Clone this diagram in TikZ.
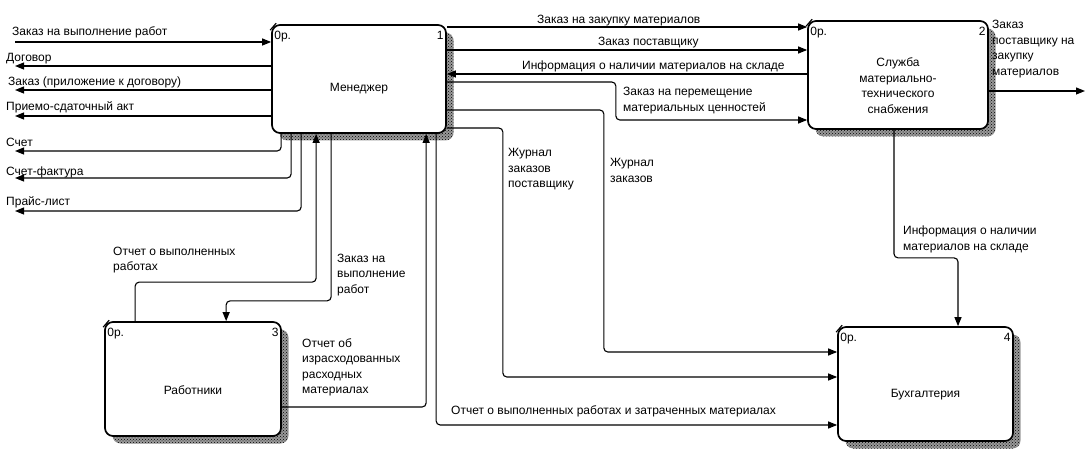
\documentclass[tikz,border=0pt]{standalone}
\usepackage{fontspec}
\setmainfont{Liberation Sans}
\usetikzlibrary{arrows.meta,patterns}
\begin{document}
\begin{tikzpicture}[x=1pt,y=-1pt,
  every node/.style={font=\fontsize{12}{15.5}\selectfont, inner sep=0pt},
  proc/.style={draw, line width=1.7pt, rounded corners=8pt, fill=white, inner sep=0pt,
     preaction={draw=none, fill=black!40, transform canvas={shift={(7.5pt,-7.5pt)}}},
     preaction={draw=none, pattern=crosshatch dots, pattern color=black,
                transform canvas={shift={(7.5pt,-7.5pt)}}}},
  flow/.style={draw, line width=1.1pt, rounded corners=4pt, -{Triangle[length=9pt,width=7pt]}},
  lbl/.style={anchor=base west, align=left},
  tick/.style={line width=1.1pt}]
\useasboundingbox (0,0) rectangle (1087,465);
% boxes
\node[proc, minimum width=174pt, minimum height=108pt] (m) at (359,79) {};
\node[proc, minimum width=180pt, minimum height=108pt] (s) at (898,75) {};
\node[proc, minimum width=176pt, minimum height=114pt] (w) at (193,379) {};
\node[proc, minimum width=175pt, minimum height=114pt] (b) at (925.5,384) {};
\node (mt) at ([yshift=-10pt]m.center) {Менеджер};
\node[align=center] (st) at ([yshift=-10.5pt]s.center) {Служба\\материально-\\технического\\снабжения};
\node (wt) at ([yshift=-11pt]w.center) {Работники};
\node (bt) at ([yshift=-11pt]b.center) {Бухгалтерия};
\foreach \bx/\nm in {m/1,s/2,w/3,b/4}{
  \node[anchor=base west] (\bx o) at ([shift={(3pt,-15pt)}]\bx.north west) {0р.};
  \node[anchor=base east] (\bx n) at ([shift={(-3pt,-15pt)}]\bx.north east) {\nm};
  \draw[tick] ([shift={(-1pt,-6pt)}]\bx.north west) -- ([shift={(5pt,1pt)}]\bx.north west);
}
% left side
\coordinate (e1) at (15,42);
\coordinate (e2) at (15,66);
\coordinate (e3) at (15,90);
\coordinate (e4) at (15,116);
\coordinate (e5) at (15,151);
\coordinate (e6) at (15,178);
\coordinate (e7) at (15,211);
\draw[flow] (e1) -- (e1 -| m.west);
\draw[flow] (e2 -| m.west) -- (e2);
\draw[flow] (e3 -| m.west) -- (e3);
\draw[flow] (e4 -| m.west) -- (e4);
\draw[flow] ([xshift=10pt]m.south west) |- (e5);
\draw[flow] ([xshift=20pt]m.south west) |- (e6);
\draw[flow] ([xshift=30pt]m.south west) |- (e7);
\node[lbl] at (12,36) {Заказ на выполнение работ};
\node[lbl] at (6,62) {Договор};
\node[lbl] at (8,86) {Заказ (приложение к договору)};
\node[lbl] at (6,111) {Приемо-сдаточный акт};
\node[lbl] at (6,147) {Счет};
\node[lbl] at (6,176) {Счет-фактура};
\node[lbl] at (6,206) {Прайс-лист};
% right of manager
\coordinate (r1) at ([yshift=52pt]m.east);
\coordinate (r2) at ([yshift=29pt]m.east);
\coordinate (r3) at ([yshift=5pt]m.east);
\coordinate (r4) at ([yshift=-3pt]m.east);
\coordinate (r5) at ([yshift=-31pt]m.east);
\coordinate (r6) at ([yshift=-49pt]m.east);
\coordinate (s4) at ([yshift=-45pt]s.west);
\coordinate (b1) at ([yshift=32pt]b.west);
\coordinate (b2) at ([yshift=7pt]b.west);
\coordinate (b3) at ([yshift=-41pt]b.west);
\draw[flow] (r1) -- (r1 -| s.west);
\draw[flow] (r2) -- (r2 -| s.west);
\draw[flow] (r3 -| s.west) -- (r3);
\draw[flow] (r4) -- ++(169,0) |- (s4);
\draw[flow] (r5) -- ++(157,0) |- (b1);
\draw[flow] (r6) -- ++(56,0) |- (b2);
\draw[flow] ([xshift=165pt]m.south west) |- (b3);
\node[lbl] at (537,24) {Заказ на закупку материалов};
\node[lbl] at (598,46) {Заказ поставщику};
\node[lbl] at (522,70) {Информация о наличии материалов на складе};
\node[lbl] at (623,111.5) {Заказ на перемещение\\материальных ценностей};
\node[lbl] at (508,188) {Журнал\\заказов\\поставщику};
\node[lbl] at (610,182.5) {Журнал\\заказов};
\node[lbl] at (451,414) {Отчет о выполненных работах и затраченных материалах};
% box 2 outputs
\draw[flow] ([xshift=-4pt]s.south) -- ++(0,128) -| ([xshift=32.5pt]b.north);
\node[lbl] at (903,250.5) {Информация о наличии\\материалов на складе};
\coordinate (eo) at (1085,91);
\draw[flow] (eo -| s.east) -- (eo);
\node[lbl] at (992,75.5) {Заказ\\поставщику на\\закупку\\материалов};
% workers
\draw[flow] ([xshift=31pt]w.north west) -- ++(0,-39) -| ([xshift=45pt]m.south west);
\draw[flow] ([xshift=60pt]m.south west) -- ++(0,167) -| ([xshift=122pt]w.north west);
\draw[flow] ([yshift=-28pt]w.east) -| ([xshift=155pt]m.south west);
\node[lbl] at (113,270.5) {Отчет о выполненных\\работах};
\node[lbl] at (337,293) {Заказ на\\выполнение\\работ};
\node[lbl] at (302,393.5) {Отчет об\\израсходованных\\расходных\\материалах};
\end{tikzpicture}
\end{document}
